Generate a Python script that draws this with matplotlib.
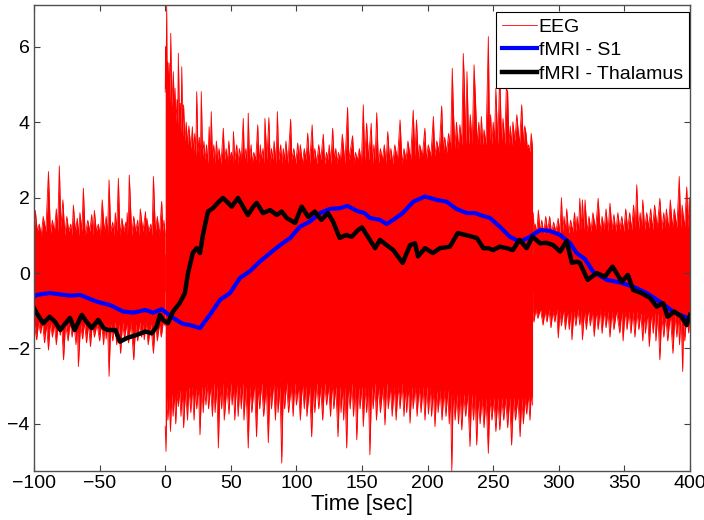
import numpy as np
import matplotlib
matplotlib.use("Agg")
import matplotlib.pyplot as plt

plt.rcParams['font.family'] = ['Liberation Sans', 'DejaVu Sans']

# EEG outline (time, value): the band edge with its spikes
pre_top = [(-100, 1.0), (-99, 1.66), (-97.5, 1.1), (-96, 1.3), (-94.5, 1.0), (-93, 1.5), (-91, 1.1),
           (-89, 2.69), (-87.5, 1.05), (-86, 1.4), (-84.5, 1.1), (-83, 1.7), (-82, 1.1), (-80.7, 2.84),
           (-79.5, 1.2), (-78, 1.94), (-76.5, 1.0), (-75, 1.5), (-73.5, 1.1), (-72, 1.3), (-71, 1.0),
           (-70, 1.8), (-68.5, 1.1), (-67, 1.45), (-66, 1.0), (-65, 1.6), (-63.5, 1.1), (-62.4, 2.25),
           (-61, 1.0), (-59, 1.4), (-57.5, 1.1), (-56, 1.55), (-55, 1.0), (-54, 1.66), (-52.5, 1.1),
           (-51, 1.3), (-49.5, 1.0), (-48, 1.94), (-46.5, 1.1), (-45, 1.5), (-44, 1.0), (-42.8, 2.47),
           (-41.5, 1.1), (-40, 1.35), (-39, 1.0), (-38, 1.6), (-37, 1.1), (-35.7, 2.51), (-34.5, 1.0),
           (-33, 1.45), (-31.5, 1.1), (-30, 1.35), (-29.5, 1.0), (-29, 1.6), (-28.2, 1.1), (-27.4, 2.6),
           (-25.5, 1.0), (-24, 1.5), (-22.5, 1.1), (-21, 1.4), (-20, 1.0), (-19, 1.7), (-17, 1.1),
           (-15, 1.63), (-14.5, 1.0), (-14, 1.45), (-12.5, 1.1), (-11, 1.3), (-10, 1.0), (-9, 2.56),
           (-7.5, 1.1), (-6, 1.5), (-4.5, 1.0), (-2.7, 1.9), (-1.8, 1.1), (-1, 1.4), (0, 1.0)]
pre_bot = [(-100, -1.3), (-98, -1.77), (-96.5, -1.3), (-95, -1.6), (-93.5, -1.3), (-92, -1.85),
           (-90.5, -1.35), (-89, -2.04), (-87.5, -1.3), (-86, -1.7), (-84.5, -1.35), (-83, -1.9),
           (-81.5, -1.3), (-80, -1.65), (-79, -1.3), (-77.5, -2.3), (-76, -1.35), (-74, -1.8),
           (-72.5, -1.3), (-71, -1.7), (-69.5, -1.35), (-68, -1.9), (-67, -1.3), (-66.2, -2.48),
           (-64.5, -1.35), (-63, -1.75), (-61.5, -1.3), (-60, -1.85), (-58.5, -1.35), (-57, -1.95),
           (-55.5, -1.3), (-54, -1.7), (-52, -1.35), (-50, -1.8), (-48.5, -1.3), (-47, -1.9),
           (-46, -1.35), (-45, -1.75), (-44, -1.3), (-42.8, -2.74), (-41.5, -1.35), (-40, -1.8),
           (-38.5, -1.3), (-37, -1.9), (-35.5, -1.35), (-34, -2.13), (-32.5, -1.3), (-31, -1.75),
           (-29.5, -1.35), (-28, -1.85), (-26, -1.3), (-24, -2.3), (-22.5, -1.35), (-21, -1.8),
           (-19.5, -1.3), (-18, -1.7), (-17, -1.35), (-16, -1.77), (-14.5, -1.3), (-13, -1.9),
           (-11, -1.35), (-9, -2.13), (-7.5, -1.3), (-6, -1.8), (-4.5, -1.35), (-3, -1.7),
           (-1.5, -1.3), (0, -1.4)]
stim_top = [(0, 4.8), (0.3, 6.0), (0.6, 4.9), (0.9, 6.36), (1.1, 7.1), (1.5, 4.8), (2, 5.6), (2.5, 4.6),
            (3, 5.57), (3.6, 4.5), (4.2, 6.36), (5, 4.4), (6.2, 5.34), (7, 4.2), (7.5, 4.9), (8.2, 4.0),
            (9, 4.6), (9.5, 3.9), (10, 5.83), (11, 3.8), (11.5, 4.5), (12, 3.7), (12.6, 5.47), (13.3, 3.6),
            (14, 4.46), (15, 3.5), (16, 4.0), (17, 3.4), (18, 3.9), (19.5, 3.3), (20.7, 3.88), (21.5, 3.2),
            (22.5, 3.7), (23.3, 3.1), (24, 4.81), (25, 3.2), (26, 3.6), (26.8, 3.0), (27.5, 4.81),
            (28.5, 3.1), (29.5, 3.5), (30.3, 3.0), (31.5, 3.4), (32.5, 2.9), (33.5, 3.88), (34.3, 3.1),
            (35.1, 4.28), (36, 3.0), (37, 3.4), (38, 2.9), (39, 3.5), (40, 3.0), (41, 3.3), (42.5, 2.9),
            (44.3, 3.84), (45.2, 3.0), (46.5, 3.3), (47.3, 2.9), (48.5, 3.5), (49.5, 3.0), (50.5, 3.2),
            (51.3, 2.9), (52, 3.75), (53, 3.0), (54.5, 3.4), (55.5, 2.9), (56.5, 3.3), (58, 3.0),
            (59.5, 4.10), (60.3, 3.0), (61.5, 3.3), (62.5, 2.9), (63.3, 4.24), (64.2, 3.0), (65.5, 3.4),
            (66.3, 2.9), (67.5, 3.2), (69, 3.0), (70.5, 3.93), (71.5, 2.9), (72.5, 3.4), (73.3, 3.0),
            (74.5, 3.3), (75.3, 2.9), (76, 4.10), (77.5, 3.0), (79, 4.12), (80, 2.9), (81, 3.3), (82, 3.0),
            (83, 3.5), (84.5, 2.9), (85.5, 4.28), (86.5, 3.0), (88, 3.4), (89, 2.9), (90, 3.3), (91, 3.0),
            (92, 3.5), (93.5, 2.9), (95.6, 4.08), (96.5, 3.0), (98, 3.3), (99.5, 2.9), (101, 3.45),
            (102, 3.0), (103, 3.4), (104.5, 2.9), (106, 3.3), (107.3, 3.0), (108.6, 3.71), (110, 2.9),
            (112, 3.93), (113, 3.0), (114, 3.3), (115.5, 2.9), (117, 3.4), (118.5, 3.0), (120.5, 3.68),
            (121.5, 2.9), (123, 3.2), (124, 3.0), (125, 3.4), (126.3, 2.9), (127.6, 3.84), (128.8, 3.0),
            (130, 3.3), (131, 2.9), (132, 3.2), (133.5, 3.0), (135, 3.68), (137, 2.9), (139, 4.39),
            (140, 3.0), (141.3, 3.3), (142.8, 3.64), (144, 2.9), (145, 3.2), (146.5, 3.0), (148, 3.3),
            (149.5, 2.9), (151, 4.46), (152, 3.0), (153.5, 3.97), (155, 3.0), (157, 3.97), (158, 2.9),
            (159, 3.4), (160, 3.0), (161.2, 4.25), (162.5, 2.9), (164, 3.3), (165.5, 3.0), (167, 3.4),
            (168.3, 2.9), (169.6, 3.75), (171, 3.0), (172, 3.3), (173.5, 2.9), (175, 3.4), (177, 3.0),
            (179, 4.06), (180.5, 2.9), (182, 3.3), (183.5, 3.0), (185, 3.5), (187, 3.0), (189, 4.32),
            (190.3, 3.1), (191.5, 4.06), (193, 3.0), (194, 3.4), (196, 3.1), (197.9, 3.84), (199, 3.0),
            (200.5, 3.4), (202.5, 3.1), (204.4, 4.15), (205.5, 3.1), (207, 3.5), (208.8, 3.2),
            (210.7, 4.43), (212, 3.2), (213, 3.6), (214.5, 3.2), (216, 3.7), (217.5, 3.3), (218.8, 5.43),
            (219.5, 4.46), (220.8, 3.3), (222, 4.0), (223.3, 3.3), (224.6, 3.93), (226, 3.4),
            (227.2, 5.82), (228, 4.99), (229, 3.4), (230, 5.34), (231.3, 3.4), (232.5, 4.2), (234, 3.4),
            (235.4, 5.52), (236.5, 4.58), (237.8, 3.4), (239, 4.0), (240, 3.4), (241, 4.15), (242, 3.4),
            (243, 3.8), (244.5, 3.4), (246.3, 6.27), (247.2, 3.5), (248, 4.2), (249, 3.4), (250, 4.0),
            (251, 3.5), (252, 4.90), (253.5, 3.4), (255, 5.3), (256.3, 3.5), (257.5, 4.1), (258.8, 3.4),
            (260, 4.9), (261, 4.81), (262, 3.4), (263, 3.9), (264, 3.4), (265, 4.01), (266.5, 3.5),
            (268, 4.2), (270, 3.4), (271.7, 4.46), (273, 3.4), (274, 3.9), (275, 3.71), (276, 3.3),
            (277, 3.4), (278, 3.2), (279, 3.7), (280, 3.3)]
stim_bot = [(0, -4.07), (0.6, -4.73), (1.2, -3.3), (2, -3.9), (3, -3.3), (4, -4.2), (5, -3.2), (6, -3.8),
            (7, -3.2), (8, -4.0), (9, -3.2), (10, -3.54), (11, -3.1), (12, -3.8), (13, -3.1), (14, -4.1),
            (15.5, -3.1), (17, -3.9), (18, -3.0), (19.5, -3.7), (20.5, -3.0), (22, -3.9), (23, -3.0),
            (24, -3.6), (25.3, -3.0), (26.5, -4.29), (27.8, -3.0), (29, -3.7), (30, -3.0), (31, -3.5),
            (32, -2.9), (33, -3.6), (34.5, -3.0), (36, -3.8), (37, -2.9), (38, -3.7), (39.3, -3.0),
            (40.5, -4.64), (41.8, -3.0), (43, -3.6), (44, -2.9), (45, -3.9), (47, -3.0), (48.6, -3.74),
            (49.8, -2.9), (51, -3.5), (52, -3.0), (53, -3.9), (54.3, -2.9), (55.6, -3.80), (56.8, -3.0),
            (58, -3.6), (59, -2.9), (60, -3.9), (61.5, -3.0), (63.3, -4.64), (64.5, -3.0), (66, -3.7),
            (68, -2.9), (69.6, -4.34), (70.8, -3.0), (72, -3.6), (73.5, -2.9), (75, -3.8), (77, -3.0),
            (78.6, -4.5), (79.8, -3.0), (81, -3.6), (82.5, -2.9), (84, -3.9), (85, -3.0), (86, -3.7),
            (87.5, -3.0), (88.8, -5.04), (90, -3.0), (91, -3.6), (92.5, -2.9), (94, -3.7), (96, -3.0),
            (97.5, -3.8), (98.8, -2.9), (100, -3.5), (101.5, -3.0), (103, -3.9), (104.5, -2.9),
            (106, -3.6), (107, -3.0), (108, -3.8), (110, -3.0), (111.6, -4.34), (113, -3.0), (114, -3.7),
            (115.5, -2.9), (117, -3.6), (118.5, -3.0), (120, -3.9), (121.5, -2.9), (123, -3.5),
            (124.5, -3.0), (126, -3.8), (127.3, -2.9), (128.5, -3.6), (130, -3.0), (131.7, -4.34),
            (133, -3.0), (134, -3.7), (135, -3.0), (136, -3.9), (137, -3.0), (138.3, -4.64), (139.5, -3.0),
            (141, -3.6), (142.3, -2.9), (143.5, -3.8), (144.8, -3.0), (146, -4.42), (147.3, -3.0),
            (148.5, -3.6), (149.8, -3.0), (151, -4.07), (152.3, -3.0), (153.5, -3.7), (154.8, -3.0),
            (156, -4.82), (157.3, -3.0), (158.5, -3.6), (159.8, -2.9), (161, -3.9), (162.5, -3.0),
            (164, -3.7), (166, -3.0), (167.5, -4.03), (168.8, -2.9), (170, -3.6), (171.5, -3.0),
            (173, -3.8), (174.5, -3.0), (176, -3.9), (177.5, -3.0), (179, -3.6), (180.5, -2.9),
            (182, -3.8), (183, -3.0), (184, -3.7), (185.3, -3.0), (186.6, -3.98), (188, -3.0), (189, -3.6),
            (190.5, -3.0), (192, -3.8), (193.5, -3.0), (195, -3.7), (196.5, -3.0), (198, -3.9),
            (199.3, -3.0), (200.6, -3.74), (202, -3.0), (203, -3.8), (204.3, -3.1), (205.6, -4.07),
            (207, -3.1), (208, -3.7), (209.5, -3.1), (211, -3.9), (212.5, -3.1), (214, -3.8),
            (215.3, -3.1), (216.5, -4.0), (217.5, -3.2), (218.4, -5.25), (219.5, -3.2), (221, -3.9),
            (222.3, -3.2), (223.5, -4.0), (224.8, -3.2), (226, -4.16), (227.5, -3.2), (229, -3.8),
            (230.5, -3.2), (232.3, -4.6), (233.5, -3.2), (235, -3.9), (236.2, -3.2), (237.4, -4.56),
            (238.7, -3.3), (240, -4.0), (241.5, -3.3), (243, -4.1), (244.5, -3.3), (246.3, -4.78),
            (247.5, -3.3), (249, -3.9), (250.5, -3.3), (252, -4.2), (253.5, -3.3), (255, -4.16),
            (256.5, -3.3), (258, -3.9), (259.5, -3.3), (261, -4.1), (262.5, -3.3), (264, -4.56),
            (265.5, -3.3), (267, -3.9), (268.8, -3.3), (270.5, -4.34), (271.8, -3.3), (273, -4.0),
            (274.2, -3.3), (275.5, -3.74), (276.8, -3.2), (278, -3.9), (279, -3.2), (280, -3.5)]
post_top = [(280, 1.1), (280.5, 1.6), (281.3, 1.1), (282, 1.3), (283.2, 1.05), (284.4, 1.67), (285.7, 1.1),
            (287, 1.4), (288.5, 1.05), (290, 1.5), (291.5, 1.1), (293, 1.5), (294.5, 1.05), (296, 1.35),
            (297.8, 1.1), (299.5, 1.45), (300.8, 1.05), (302, 2.0), (303, 1.1), (304, 1.5), (305, 1.1),
            (306, 1.7), (307.5, 1.05), (309, 1.4), (310.5, 1.1), (312, 1.6), (313, 1.1), (314, 1.5),
            (315, 1.1), (316, 1.98), (317, 1.15), (318, 1.94), (319, 1.15), (320, 1.94), (321.5, 1.1),
            (323, 1.5), (324.5, 1.1), (326, 1.6), (328, 1.15), (330, 1.98), (331.5, 1.1), (333, 1.5),
            (334.5, 1.15), (336, 1.7), (337.5, 1.1), (339, 1.85), (340.5, 1.15), (342, 1.55), (343.5, 1.1),
            (345, 1.6), (346.5, 1.15), (348, 1.5), (349.5, 1.1), (351, 1.7), (352.5, 1.15), (354, 1.6),
            (355.5, 1.15), (357, 1.8), (358.2, 1.2), (359.4, 2.34), (360.7, 1.15), (362, 1.6), (363, 1.2),
            (364, 1.94), (365.5, 1.15), (367, 1.6), (368.5, 1.2), (370, 1.7), (371.5, 1.15), (373, 1.8),
            (375, 1.2), (377, 1.98), (378.5, 1.15), (380, 1.6), (381, 1.2), (382, 1.7), (383.5, 1.15),
            (385, 1.94), (386.5, 1.2), (388, 1.7), (390, 1.2), (391.8, 2.56), (393, 1.2), (394, 1.8),
            (395.8, 1.2), (397.5, 2.28), (398.5, 1.2), (399.5, 2.0), (400, 1.2)]
post_bot = [(280, -1.0), (281, -1.3), (282.5, -0.95), (284, -1.2), (286, -0.95), (288, -1.38), (289.5, -1.0),
            (291, -1.3), (292.5, -0.95), (294, -1.45), (295.5, -1.0), (297, -1.3), (298.3, -0.95),
            (299.6, -1.72), (300.8, -1.0), (302, -1.4), (303.5, -0.95), (305, -1.5), (306.5, -1.0),
            (308, -1.5), (309, -1.0), (310, -1.77), (311.5, -1.0), (313, -1.4), (314.5, -0.95),
            (316, -1.38), (317, -1.0), (318, -1.77), (319.5, -1.0), (321, -1.5), (322.5, -0.95),
            (324, -1.4), (325.5, -1.0), (327, -1.68), (328.5, -1.0), (330, -1.5), (331.5, -0.95),
            (333, -1.6), (334.5, -1.0), (336, -1.45), (337.5, -1.0), (339, -1.7), (340.5, -1.0),
            (342, -1.5), (344, -1.0), (346.5, -1.59), (347.8, -1.0), (349, -1.8), (350.5, -1.0),
            (352, -1.5), (353.5, -1.0), (355, -1.6), (356.5, -1.0), (358, -1.7), (359.5, -1.0),
            (361, -1.5), (362.5, -1.05), (364, -1.8), (365, -1.05), (366, -1.6), (367.5, -1.05),
            (369, -1.95), (370.5, -1.05), (372, -1.6), (373, -1.05), (374, -1.8), (375.5, -1.05),
            (377, -2.30), (378.5, -1.1), (380, -1.7), (381.5, -1.1), (383, -1.8), (385, -1.1),
            (387, -2.13), (388.5, -1.1), (390, -1.7), (391, -1.1), (392, -1.9), (393.2, -1.1),
            (394.4, -2.61), (395.2, -1.1), (396, -1.8), (397.5, -1.1), (399, -1.59), (400, -1.1)]

# fMRI - S1
s1_t = [-100, -98, -88, -72.6, -65, -52, -42, -32, -24.5, -15, -9, -2.7, 6, 13.6, 19, 26.5, 34, 41.8,
        49.4, 57, 64.6, 72, 80, 87.5, 95, 102.7, 110, 118, 125.6, 133, 139, 146, 152, 156, 163.7,
        168.8, 173.8, 181, 189, 198, 207, 214.6, 222, 230, 236, 240, 247.6, 255, 262.8, 270.4, 278,
        285.7, 293, 301, 308.5, 313.6, 320, 326, 336.5, 346.6, 356.6, 367, 377, 387, 397.5, 400]
s1_v = [-0.63, -0.58, -0.53, -0.6, -0.58, -0.76, -0.85, -1.02, -1.05, -0.98, -1.05, -0.96, -1.19, -1.35,
        -1.38, -1.46, -1.11, -0.71, -0.53, -0.13, 0.05, 0.3, 0.53, 0.74, 0.92, 1.23, 1.36, 1.59, 1.70,
        1.72, 1.78, 1.65, 1.59, 1.46, 1.41, 1.30, 1.41, 1.59, 1.89, 2.03, 1.94, 1.89, 1.70, 1.59, 1.59,
        1.54, 1.46, 1.23, 0.96, 0.83, 0.96, 1.14, 1.12, 1.01, 0.80, 0.53, 0.37, 0.04, -0.18, -0.25,
        -0.36, -0.53, -0.76, -1.02, -1.19, -1.2]

# fMRI - Thalamus
th_t = [-100, -98, -93, -88, -84, -80, -76, -72.6, -69, -63.6, -60, -56, -51, -47, -43.6, -38, -34.5,
        -29, -21.7, -15, -10.3, -6.5, -4, -1.7, 2, 6, 11, 15, 17.4, 21, 24, 26.5, 29, 32.6, 36.4, 40,
        44, 48, 50.7, 55.5, 59.3, 63, 67, 69.7, 74.6, 80, 85, 88.8, 92.6, 99, 104, 109, 114, 119, 124,
        128, 133, 138, 142, 147, 150, 156, 160, 163.7, 168.8, 173.8, 181, 186.6, 190.4, 192.7, 198,
        204, 209.5, 217, 223, 230, 237.5, 242.5, 246, 250, 255, 260, 265, 270, 275.5, 280, 285.7,
        290.8, 295.7, 301, 306, 310, 313.6, 316, 322, 329, 335, 341, 348, 352.7, 356.7, 363, 369.5,
        374.6, 379.5, 383, 388, 393.6, 397.5, 400]
th_v = [-0.93, -1.06, -1.33, -1.16, -1.29, -1.51, -1.33, -1.19, -1.51, -1.11, -1.29, -1.46, -1.24, -1.46,
        -1.51, -1.51, -1.82, -1.72, -1.64, -1.55, -1.6, -1.42, -1.11, -1.24, -1.33, -1.02, -0.8, -0.53,
        0.0, 0.53, 0.66, 0.53, 1.06, 1.63, 1.72, 1.86, 1.99, 1.86, 1.76, 1.99, 1.76, 1.54, 1.75, 1.86,
        1.59, 1.67, 1.54, 1.63, 1.46, 1.33, 1.76, 1.49, 1.63, 1.41, 1.59, 1.36, 0.93, 1.01, 0.96, 1.14,
        1.21, 0.88, 0.66, 0.88, 0.74, 0.61, 0.27, 0.74, 0.79, 0.44, 0.66, 0.53, 0.66, 0.70, 1.06, 1.0,
        0.93, 0.66, 0.66, 0.61, 0.70, 0.66, 0.61, 0.88, 0.66, 0.96, 0.79, 0.8, 0.74, 0.57, 0.85, 0.27,
        0.3, 0.27, -0.18, 0.0, -0.1, 0.17, -0.23, -0.05, -0.45, -0.53, -0.66, -0.89, -0.8, -1.16,
        -1.02, -1.16, -1.38, -1.11]

fig = plt.figure(figsize=(7.04, 5.2), dpi=100)
ax = fig.add_axes([0.0483, 0.0942, 0.9318, 0.8956])

# EEG: upper and lower outlines of each part, filled across the middle so no seam shows
eeg_parts = [(pre_top, pre_bot), (stim_top, stim_bot), (post_top, post_bot)]
for i, (top, bot) in enumerate(eeg_parts):
    tt = np.array([p[0] for p in top])
    tv = np.array([p[1] for p in top])
    bt = np.array([p[0] for p in bot])
    bv = np.array([p[1] for p in bot])
    ax.fill_between(tt, -0.5, tv, color='red', linewidth=0)
    ax.fill_between(bt, bv, 0.5, color='red', linewidth=0)
    ax.plot(tt, tv, color='red', linewidth=0.6, label='EEG' if i == 0 else None)
    ax.plot(bt, bv, color='red', linewidth=0.6)

ax.plot(s1_t, s1_v, color='blue', linewidth=3, label='fMRI - S1')
ax.plot(th_t, th_v, color='black', linewidth=3.2, label='fMRI - Thalamus')

ax.set_xlim(-100, 400)
ax.set_ylim(-5.25, 7.1)
ax.set_xticks(np.arange(-100, 401, 50))
ax.set_yticks([-4, -2, 0, 2, 4, 6])
ax.tick_params(direction='in', top=True, right=True, length=4, width=0.8,
               labelsize=14, color='#404040', pad=3)
for s in ax.spines.values():
    s.set_color('#505050')
    s.set_linewidth(1.0)
ax.set_xlabel('Time [sec]', fontsize=16, labelpad=1)

leg = ax.legend(loc='upper right', bbox_to_anchor=(0.998, 0.985), fontsize=14,
                handlelength=1.8, handletextpad=0.1, labelspacing=0.3,
                borderpad=0.3, borderaxespad=0.0, fancybox=False, framealpha=1)
leg.get_frame().set_edgecolor('black')
leg.get_frame().set_linewidth(0.8)

fig.savefig('out.png', dpi=100)
